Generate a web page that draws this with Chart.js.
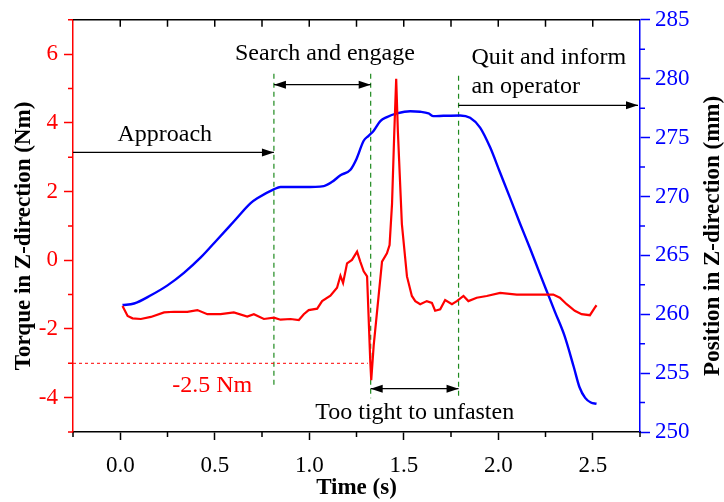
<!DOCTYPE html>
<html>
<head>
<meta charset="utf-8">
<script src="https://cdn.jsdelivr.net/npm/chart.js@4.4.0/dist/chart.umd.min.js"></script>
<style>
  html, body { margin: 0; padding: 0; background: #fff; }
</style>
</head>
<body>
<canvas id="chart" width="724" height="502"></canvas>
<script>
// torque trace (left axis, Nm)
const torqueTime = [0.012, 0.039, 0.065, 0.109, 0.162, 0.232, 0.285, 0.355, 0.408, 0.461,
  0.531, 0.601, 0.672, 0.707, 0.760, 0.813, 0.848, 0.901, 0.945, 0.971,
  0.997, 1.042, 1.068, 1.112, 1.147, 1.165, 1.179, 1.200, 1.226, 1.253,
  1.270, 1.288, 1.306, 1.323, 1.328, 1.341, 1.367, 1.385, 1.411, 1.425,
  1.438, 1.450, 1.460, 1.469, 1.490, 1.517, 1.543, 1.561, 1.587, 1.622,
  1.649, 1.666, 1.693, 1.719, 1.755, 1.781, 1.816, 1.842, 1.886, 1.939,
  2.010, 2.098, 2.185, 2.247, 2.291, 2.326, 2.362, 2.405, 2.441, 2.485,
  2.511, 2.520];
const torque = [-1.33, -1.62, -1.69, -1.71, -1.65, -1.52, -1.50, -1.50, -1.45, -1.57,
  -1.57, -1.52, -1.64, -1.57, -1.71, -1.67, -1.73, -1.71, -1.74, -1.57,
  -1.45, -1.41, -1.19, -1.03, -0.80, -0.45, -0.66, -0.09, 0.01, 0.25,
  -0.04, -0.32, -0.47, -2.96, -3.49, -2.48, -1.04, -0.04, 0.20, 0.44,
  1.64, 3.74, 5.28, 3.74, 1.06, -0.47, -1.04, -1.19, -1.28, -1.19,
  -1.24, -1.47, -1.43, -1.16, -1.28, -1.19, -1.04, -1.19, -1.09, -1.04,
  -0.95, -1.00, -1.00, -1.00, -1.00, -1.09, -1.28, -1.47, -1.57, -1.60,
  -1.38, -1.31];

// position trace (right axis, mm)
const posTime = [0.012, 0.073, 0.162, 0.25, 0.337, 0.426, 0.514, 0.602, 0.690, 0.725,
  0.812, 0.848, 0.971, 1.077, 1.121, 1.165, 1.218, 1.250, 1.288, 1.314,
  1.340, 1.376, 1.411, 1.464, 1.534, 1.587, 1.631, 1.657, 1.710, 1.798,
  1.851, 1.904, 1.957, 2.009, 2.062, 2.115, 2.168, 2.221, 2.273, 2.300,
  2.350, 2.400, 2.430, 2.460, 2.490, 2.520];
const position = [260.78, 260.91, 261.61, 262.45, 263.51, 264.82, 266.35, 267.89, 269.43, 269.84,
  270.60, 270.80, 270.80, 270.88, 271.24, 271.80, 272.27, 273.19, 274.73, 275.15,
  275.56, 276.40, 276.74, 277.05, 277.24, 277.19, 277.05, 276.82, 276.85, 276.88,
  276.68, 275.85, 274.17, 272.05, 269.90, 267.70, 265.60, 263.40, 261.30, 260.20,
  258.2, 255.5, 253.8, 252.9, 252.5, 252.4];

// tick values
const timeTicks = [0, 0.5, 1, 1.5, 2, 2.5];
const timeMinor = [-0.25, 0.25, 0.75, 1.25, 1.75, 2.25, 2.75];
const torqueTicks = [-4, -2, 0, 2, 4, 6];
const torqueMinor = [-5, -3, -1, 1, 3, 5, 7];
const posTicks = [250, 255, 260, 265, 270, 275, 280, 285];
const posMinor = [252.5, 257.5, 262.5, 267.5, 272.5, 277.5, 282.5];

const SERIF = "'Liberation Serif', 'Times New Roman', serif";
const RED = '#ff0000';
const BLUE = '#0000ff';

function arrow(ctx, x1, x2, y, both) {
    ctx.beginPath();
    ctx.moveTo(x1, y);
    ctx.lineTo(x2, y);
    ctx.stroke();
    const head = (tip, dir) => {
        ctx.beginPath();
        ctx.moveTo(tip, y);
        ctx.lineTo(tip - dir * 12, y - 4);
        ctx.lineTo(tip - dir * 12, y + 4);
        ctx.closePath();
        ctx.fill();
    };
    head(x2, 1);
    if (both) head(x1, -1);
}

const decorations = {
    id: 'decorations',
    beforeDatasetsDraw(chart) {
        const {ctx, chartArea: a, scales: {x, y}} = chart;
        ctx.save();
        // phase boundaries
        ctx.strokeStyle = '#1f8a1f';
        ctx.lineWidth = 1.2;
        ctx.setLineDash([5, 4]);
        [[0.813, 5.43, -3.65], [1.325, 5.43, -4.02], [1.79, 5.37, -4.02]].forEach(([t, top, bot]) => {
            const px = x.getPixelForValue(t);
            ctx.beginPath();
            ctx.moveTo(px, y.getPixelForValue(top));
            ctx.lineTo(px, y.getPixelForValue(bot));
            ctx.stroke();
        });
        // torque limit
        ctx.strokeStyle = RED;
        ctx.lineWidth = 1;
        ctx.setLineDash([3, 3]);
        const ly = y.getPixelForValue(-3);
        ctx.beginPath();
        ctx.moveTo(a.left, ly);
        ctx.lineTo(x.getPixelForValue(1.31), ly);
        ctx.stroke();
        ctx.restore();
    },
    afterDraw(chart) {
        const {ctx, chartArea: a, scales: {x, y, y2}} = chart;
        ctx.save();

        // top frame + inward ticks
        ctx.strokeStyle = '#000';
        ctx.lineWidth = 1.5;
        ctx.beginPath();
        ctx.moveTo(a.left, a.top);
        ctx.lineTo(a.right, a.top);
        timeTicks.concat(timeMinor).forEach(v => {
            if (v <= -0.25 || v >= 2.75) return;
            const px = x.getPixelForValue(v);
            ctx.moveTo(px, a.top);
            ctx.lineTo(px, a.top + 7);
        });
        ctx.stroke();

        // minor ticks
        ctx.beginPath();
        timeMinor.forEach(v => {
            const px = x.getPixelForValue(v);
            ctx.moveTo(px, a.bottom);
            ctx.lineTo(px, a.bottom + 5);
        });
        ctx.stroke();
        ctx.strokeStyle = RED;
        ctx.beginPath();
        torqueMinor.forEach(v => {
            const py = y.getPixelForValue(v);
            ctx.moveTo(a.left, py);
            ctx.lineTo(a.left - 5, py);
        });
        ctx.stroke();
        ctx.strokeStyle = BLUE;
        ctx.beginPath();
        posMinor.forEach(v => {
            const py = y2.getPixelForValue(v);
            ctx.moveTo(a.right, py);
            ctx.lineTo(a.right + 5, py);
        });
        ctx.stroke();

        // arrows
        ctx.strokeStyle = '#000';
        ctx.fillStyle = '#000';
        ctx.lineWidth = 1.2;
        arrow(ctx, a.left, x.getPixelForValue(0.813), y.getPixelForValue(3.14), false);
        arrow(ctx, x.getPixelForValue(0.813), x.getPixelForValue(1.325), y.getPixelForValue(5.11), true);
        arrow(ctx, x.getPixelForValue(1.79), a.right - 2, y.getPixelForValue(4.51), false);
        arrow(ctx, x.getPixelForValue(1.325), x.getPixelForValue(1.79), y.getPixelForValue(-3.74), true);

        // labels
        ctx.font = '24px ' + SERIF;
        ctx.textBaseline = 'middle';
        ctx.textAlign = 'left';
        ctx.fillText('Approach', x.getPixelForValue(-0.015), y.getPixelForValue(3.65));
        ctx.fillText('Quit and inform', x.getPixelForValue(1.858), y.getPixelForValue(5.9));
        ctx.fillText('an operator', x.getPixelForValue(1.858), y.getPixelForValue(5.04));
        ctx.textAlign = 'center';
        ctx.fillText('Search and engage', x.getPixelForValue(1.083), y.getPixelForValue(6.0));
        ctx.fillText('Too tight to unfasten', x.getPixelForValue(1.558), y.getPixelForValue(-4.45));
        ctx.fillStyle = RED;
        ctx.fillText('-2.5 Nm', x.getPixelForValue(0.487), y.getPixelForValue(-3.65));

        // vertical axis titles (both read bottom to top)
        ctx.fillStyle = '#000';
        ctx.font = 'bold 23px ' + SERIF;
        const midY = (a.top + a.bottom) / 2 + 10;
        [[y.left + 24, 'Torque in Z-direction (Nm)'], [y2.right - 11, 'Position in Z-direction (mm)']].forEach(([tx, text]) => {
            ctx.save();
            ctx.translate(tx, midY);
            ctx.rotate(-Math.PI / 2);
            ctx.fillText(text, 0, 0);
            ctx.restore();
        });
        ctx.restore();
    }
};

const tickFont = {family: SERIF, size: 23};

new Chart(document.getElementById('chart'), {
    type: 'line',
    data: {
        datasets: [
            {
                label: 'Torque',
                data: torqueTime.map((t, i) => ({x: t, y: torque[i]})),
                yAxisID: 'y',
                borderColor: RED,
                borderWidth: 2.2,
                pointRadius: 0,
                tension: 0,
            },
            {
                label: 'Position',
                data: posTime.map((t, i) => ({x: t, y: position[i]})),
                yAxisID: 'y2',
                borderColor: BLUE,
                borderWidth: 2.4,
                pointRadius: 0,
                cubicInterpolationMode: 'monotone',
            },
        ],
    },
    options: {
        responsive: false,
        animation: false,
        layout: {padding: {top: 14, left: 0, right: 0, bottom: 0}},
        plugins: {
            legend: {display: false},
            tooltip: {enabled: false},
        },
        scales: {
            x: {
                type: 'linear',
                position: 'bottom',
                min: -0.25,
                max: 2.75,
                afterBuildTicks: s => { s.ticks = timeTicks.map(v => ({value: v})); },
                afterFit: s => { s.height = 70; },
                ticks: {color: '#000', font: tickFont, padding: 12, maxRotation: 0, autoSkip: false,
                    callback: v => v.toFixed(1)},
                grid: {drawOnChartArea: false, tickLength: 8, tickColor: '#000', tickWidth: 1.5},
                border: {color: '#000', width: 1.5},
                title: {display: true, text: 'Time (s)', color: '#000',
                    font: {family: SERIF, size: 23, weight: 'bold'}, padding: 0},
            },
            y: {
                type: 'linear',
                position: 'left',
                min: -5,
                max: 7,
                afterBuildTicks: s => { s.ticks = torqueTicks.map(v => ({value: v})); },
                afterFit: s => { s.width = 73; },
                ticks: {color: RED, font: tickFont, padding: 6, autoSkip: false, callback: v => String(v)},
                grid: {drawOnChartArea: false, tickLength: 9, tickColor: RED, tickWidth: 1.5},
                border: {color: RED, width: 1.5},
            },
            y2: {
                type: 'linear',
                position: 'right',
                min: 250,
                max: 285,
                afterBuildTicks: s => { s.ticks = posTicks.map(v => ({value: v})); },
                afterFit: s => { s.width = 84; },
                ticks: {color: BLUE, font: tickFont, padding: 5, autoSkip: false, callback: v => String(v)},
                grid: {drawOnChartArea: false, tickLength: 10, tickColor: BLUE, tickWidth: 1.5},
                border: {color: BLUE, width: 1.5},
            },
        },
    },
    plugins: [decorations],
});
</script>
</body>
</html>
